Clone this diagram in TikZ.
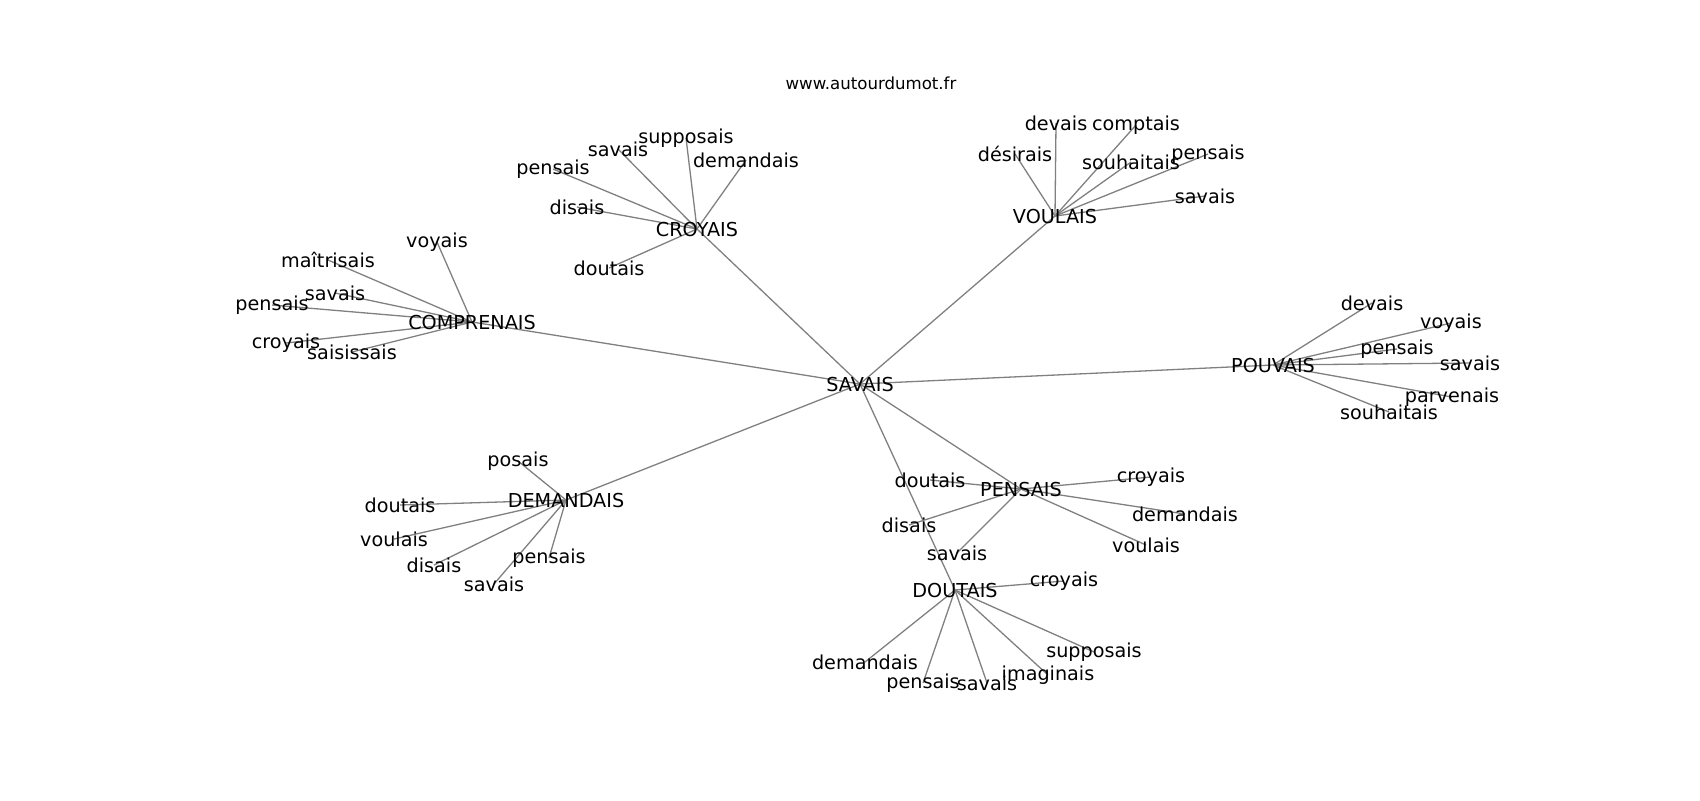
\documentclass[tikz,border=0pt]{standalone}
\usepackage{fontspec}
\setmainfont{DejaVu Sans}
\usetikzlibrary{backgrounds}

\tikzset{
  word/.style={inner sep=0pt, font=\fontsize{9.6}{11}\selectfont},
  link/.style={draw=gray, line width=0.65pt}
}

\begin{document}
\begin{tikzpicture}[x=0.5pt, y=-0.5pt]
\useasboundingbox (0,0) rectangle (1700,800);
\node[word, font=\fontsize{8.3}{10}\selectfont] (site) at (871,83) {www.autourdumot.fr};

% centre and its neighbours
\node[word] (savais) at (860,384) {SAVAIS};
\node[word] (comprenais) at (472,322) {COMPRENAIS};
\node[word] (croyais) at (697,229) {CROYAIS};
\node[word] (voulais) at (1055,216) {VOULAIS};
\node[word] (pouvais) at (1273,365) {POUVAIS};
\node[word] (demandais) at (566,500) {DEMANDAIS};
\node[word] (pensais) at (1021,489) {PENSAIS};
\node[word] (doutais) at (955,590) {DOUTAIS};

\begin{scope}[on background layer]
\foreach \h in {comprenais,croyais,voulais,pouvais,demandais,pensais,doutais}
  \draw[link] (savais.center) -- (\h.center);
\end{scope}

% second ring
\foreach \n/\t/\x/\y in {1/savais/618/149, 2/supposais/686/138, 3/demandais/746/160,
  4/pensais/553/169, 5/disais/577/207, 6/doutais/609/268}{
  \node[word] (croyais-\n) at (\x,\y) {\t};
  \begin{scope}[on background layer]
    \draw[link] (croyais.center) -- (croyais-\n.center);
  \end{scope}
}
\foreach \n/\t/\x/\y in {1/voyais/437/242, 2/maîtrisais/328/260, 3/savais/335/293,
  4/pensais/272/305, 5/croyais/286/343, 6/saisissais/352/352}{
  \node[word] (comprenais-\n) at (\x,\y) {\t};
  \begin{scope}[on background layer]
    \draw[link] (comprenais.center) -- (comprenais-\n.center);
  \end{scope}
}
\foreach \n/\t/\x/\y in {1/devais/1056/123, 2/comptais/1136/125, 3/désirais/1015/154,
  4/souhaitais/1131/162, 5/pensais/1208/154, 6/savais/1205/196}{
  \node[word] (voulais-\n) at (\x,\y) {\t};
  \begin{scope}[on background layer]
    \draw[link] (voulais.center) -- (voulais-\n.center);
  \end{scope}
}
\foreach \n/\t/\x/\y in {1/devais/1372/303, 2/voyais/1451/323, 3/pensais/1397/349,
  4/savais/1470/363, 5/parvenais/1452/397, 6/souhaitais/1389/412}{
  \node[word] (pouvais-\n) at (\x,\y) {\t};
  \begin{scope}[on background layer]
    \draw[link] (pouvais.center) -- (pouvais-\n.center);
  \end{scope}
}
\foreach \n/\t/\x/\y in {1/posais/518/461, 2/doutais/400/505, 3/voulais/394/539,
  4/disais/434/565, 5/pensais/549/558, 6/savais/494/584}{
  \node[word] (demandais-\n) at (\x,\y) {\t};
  \begin{scope}[on background layer]
    \draw[link] (demandais.center) -- (demandais-\n.center);
  \end{scope}
}
\foreach \n/\t/\x/\y in {1/doutais/930/480, 2/croyais/1151/477, 3/demandais/1185/514,
  4/voulais/1146/545, 5/disais/909/525, 6/savais/957/553}{
  \node[word] (pensais-\n) at (\x,\y) {\t};
  \begin{scope}[on background layer]
    \draw[link] (pensais.center) -- (pensais-\n.center);
  \end{scope}
}
\foreach \n/\t/\x/\y in {1/croyais/1064/581, 2/demandais/865/662, 3/pensais/923/683,
  4/savais/987/683, 5/imaginais/1048/675, 6/supposais/1094/652}{
  \node[word] (doutais-\n) at (\x,\y) {\t};
  \begin{scope}[on background layer]
    \draw[link] (doutais.center) -- (doutais-\n.center);
  \end{scope}
}
\end{tikzpicture}
\end{document}
